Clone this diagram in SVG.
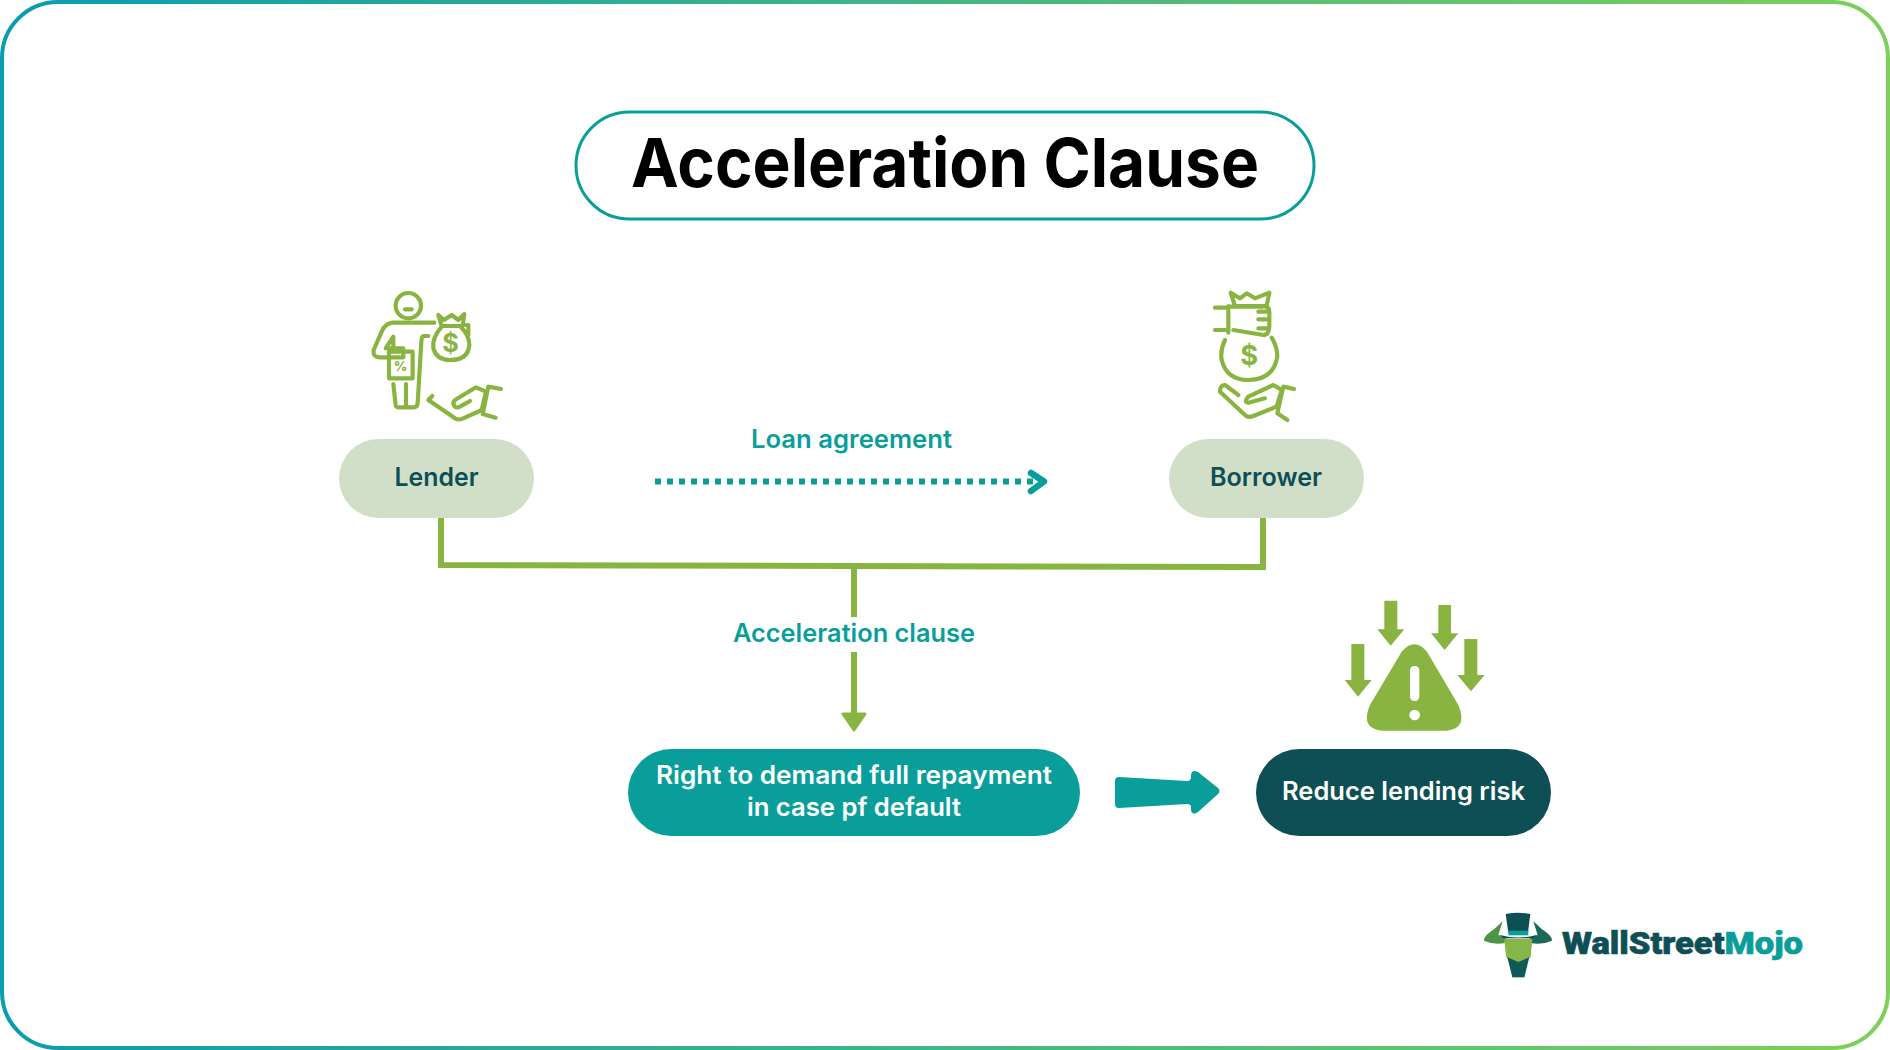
<svg xmlns="http://www.w3.org/2000/svg" width="1890" height="1050" viewBox="0 0 1890 1050">
<style>
text{font-family:"Inter","Liberation Sans",sans-serif;font-weight:600}
.lbl{font-size:25px}
.teal{fill:#0a9e9b}
.dark{fill:#0d4f55}
.white{fill:#fff}
.ico{fill:none;stroke:#8ab441;stroke-width:12.5;stroke-linecap:round;stroke-linejoin:round}
.con{fill:none;stroke:#8ab441;stroke-width:6}
.g{fill:#8ab441}
</style>
<defs>
<linearGradient id="bd" x1="0" y1="0" x2="1" y2="0"><stop offset="0" stop-color="#0a9cb0"/><stop offset="1" stop-color="#7dd05a"/></linearGradient>
</defs>
<rect width="1890" height="1050" fill="#fff"/>
<rect id="frame" x="2" y="2" width="1886" height="1046" rx="56" fill="none" stroke="url(#bd)" stroke-width="4"/>
<g id="title"><rect x="576" y="112" width="738" height="107" rx="53.5" fill="#fff" stroke="#0a9e9b" stroke-width="3"/>
<text x="631" y="187" font-size="68" fill="#000" style="font-weight:700" textLength="628" lengthAdjust="spacingAndGlyphs">Acceleration Clause</text></g>
<g id="connectors">
<path class="con" d="M441 518V565L1263 567V518"/>
<path class="con" d="M854 566V617M854 652V714"/>
<path class="g" d="M843 714H865L854 730Z" stroke="#8ab441" stroke-width="3" stroke-linejoin="round"/>
<path d="M655 481.500H1042" fill="none" stroke="#0a9e9b" stroke-width="6" stroke-dasharray="6 6"/>
<path d="M1031 473L1044 481.500L1031 491" fill="none" stroke="#0a9e9b" stroke-width="6.500" stroke-linecap="round" stroke-linejoin="round"/>
<path id="big-arrow" d="M1119 777L1187 781Q1191 781 1191 777V775Q1192 769 1198 772L1218 788Q1221 791 1218 794L1198 812Q1192 816 1191 810V807Q1191 804 1187 804L1119 808Q1115 808 1115 804V781Q1115 777 1119 777Z" fill="#0a9e9b"/>
</g>
<text class="lbl teal" x="751" y="448" textLength="201" lengthAdjust="spacingAndGlyphs">Loan agreement</text>
<text class="lbl teal" x="733" y="642" textLength="242" lengthAdjust="spacingAndGlyphs">Acceleration clause</text>
<g id="lender"><rect x="339" y="439" width="195" height="79" rx="39.5" fill="#d2dfc8"/>
<text class="lbl dark" x="394.500" y="486" textLength="84" lengthAdjust="spacingAndGlyphs">Lender</text></g>
<g id="borrower"><rect x="1169" y="439" width="195" height="79" rx="39.5" fill="#d2dfc8"/>
<text class="lbl dark" x="1210" y="486" textLength="112" lengthAdjust="spacingAndGlyphs">Borrower</text></g>
<g id="repayment"><rect x="628" y="749" width="452" height="87" rx="43.5" fill="#0a9e9b"/>
<text class="lbl white" x="656" y="784" textLength="396" lengthAdjust="spacingAndGlyphs">Right to demand full repayment</text>
<text class="lbl white" x="747" y="816" textLength="214" lengthAdjust="spacingAndGlyphs">in case pf default</text></g>
<g id="reduce"><rect x="1256" y="749" width="295" height="87" rx="43.5" fill="#0d4f55"/>
<text class="lbl white" x="1282" y="800" textLength="243" lengthAdjust="spacingAndGlyphs">Reduce lending risk</text></g>
<g id="lender-icon" transform="translate(340 270) scale(.3333)">
<g class="ico">
<circle cx="205" cy="107" r="38"/><path d="M195 118H215"/>
<path d="M283 158H158Q135 160 125 185L101 240Q98 262 120 262H190V235H137L160 200V232"/>
<rect x="147" y="245" width="71" height="80"/>
<path d="M265 198H250Q245 198 244 215L233 400Q232 412 220 412H175Q168 412 167 405L160 342M198 342V410"/>
<path d="M277 378L265 390L345 445Q358 452 370 445L425 420L438 365L408 352L345 390Q335 400 345 410Q350 415 360 410L390 393"/>
<path d="M445 350L483 357M445 350L428 432L467 443"/>
<path d="M305 168H368L373 132L355 150L335 135L312 150L295 135Z"/>
<path d="M305 170Q275 205 280 235Q290 270 330 270Q385 270 388 225Q388 195 362 170M375 165H385V195"/>
</g>
<text x="332" y="246" font-size="76" text-anchor="middle" class="g" style="font-weight:700">$</text>
<text x="182" y="303" font-size="40" text-anchor="middle" class="g" style="font-weight:800">%</text>
</g>
<g id="borrower-icon" transform="translate(1190 270) scale(.3333)">
<g class="ico">
<path d="M122 68L150 85L170 70L195 85L238 68L230 108H135Z"/>
<path d="M115 108V188M75 113H112M75 180H112"/>
<path d="M122 110H215Q240 105 238 130V165Q238 195 220 195L130 180M205 125H235M205 148H235M205 175H235"/>
<path d="M105 210Q90 240 95 270Q110 330 175 330Q250 330 262 260Q262 230 245 203"/>
<path d="M145 375L105 345Q90 345 90 365L165 435Q175 445 190 438L260 410L275 360L250 345L175 380Q160 395 175 398L225 385"/>
<path d="M280 350L312 357M280 350L262 430L292 450"/>
</g>
<text x="178" y="284" font-size="82" text-anchor="middle" class="g" style="font-weight:700">$</text>
</g>
<g id="warning-icon" transform="translate(1320 580) scale(.3333)">
<path class="g" d="M193 62H232V148H253L212 197L172 148H193Z"/>
<path class="g" d="M355 75H393V160H415L374 210L333 160H355Z"/>
<path class="g" d="M433 177H472V285H494L453 334L412 285H433Z"/>
<path class="g" d="M94 192H133V300H155L114 350L74 300H94Z"/>
<path class="g" d="M245 215Q283 170 321 215L415 375Q445 445 380 452H185Q120 445 150 375Z"/>
<rect x="270" y="258" width="28" height="105" rx="13" fill="#fff"/>
<circle cx="284" cy="405" r="16" fill="#fff"/>
</g>
<g id="logo">
<g transform="translate(1470 900) scale(.3333)">
<path d="M98 64L72 88Q40 108 42 122Q70 135 103 130L110 112L85 105Z" fill="#4f9445"/>
<path d="M190 64L216 88Q248 108 246 122Q218 135 185 130L178 112L203 105Z" fill="#1a6a5c"/>
<path d="M107 42Q145 34 181 42L174 98H115Z" fill="#0d4f55"/>
<path d="M90 105Q145 120 200 105L190 115H100Z" fill="#0d4f55"/>
<rect x="115" y="92" width="60" height="14" fill="#0a9e9b"/>
<path d="M103 116H187L182 170L165 190L163 232H127L125 190L108 170Z" fill="#86b548"/>
<path d="M112 172L145 186L178 172L163 232H127Z" fill="#0d5a58"/>
</g>
<text x="1562" y="954" font-size="31" style="font-family:Roboto,'Liberation Sans',sans-serif;font-weight:900;stroke-width:.6" textLength="241" lengthAdjust="spacingAndGlyphs"><tspan class="dark" stroke="#0d4f55">WallStreet</tspan><tspan class="teal" stroke="#0a9e9b">Mojo</tspan></text>
</g>
</svg>
